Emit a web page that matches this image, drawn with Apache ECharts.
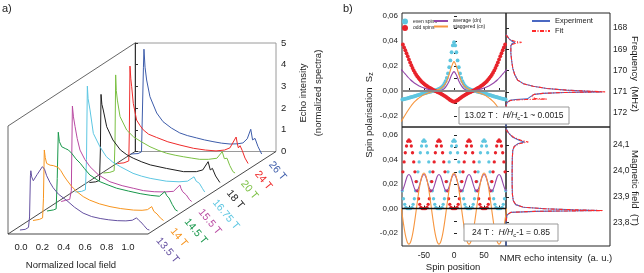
<!DOCTYPE html>
<html><head><meta charset="utf-8">
<script src="https://cdn.jsdelivr.net/npm/echarts@6/dist/echarts.min.js"></script>
<style>html,body{margin:0;padding:0;background:#fff}#c{width:644px;height:273px}</style>
</head><body><div id="c"></div>
<script>
// ---------------- Panel a: NMR spectra (normalized local field, echo intensity) ----------------
const fieldLabels = ['13.5 T','14 T','14.5 T','15.5 T','16.75 T','18 T','20 T','24 T','26 T'];
const traceColors = ['#6450a0','#f7941d','#17974a','#b94aa2','#5cc6e2','#1e1e1e','#7bc043','#ee2a2a','#3d5caa'];
const spec13_5 = [[-0.01,0],[0.04,0.03],[0.07,0.12],[0.08,0.6],[0.088,2.5],[0.092,2.73],[0.10,2.45],[0.115,2.27],[0.15,2.55],[0.2,2.92],[0.22,2.8],[0.24,2.5],[0.27,2.2],[0.30,1.95],[0.35,1.65],[0.43,1.35],[0.5,1.05],[0.58,0.78],[0.66,0.62],[0.74,0.53],[0.82,0.47],[0.9,0.43],[0.98,0.42],[1.04,0.45],[1.08,0.56],[1.1,0.45],[1.12,0.37],[1.15,0.2],[1.18,0.03],[1.2,0]];
const spec14 = [[-0.02,0],[0.04,0.05],[0.07,0.12],[0.078,1.0],[0.086,3.25],[0.095,2.9],[0.108,2.63],[0.14,2.55],[0.17,2.53],[0.215,2.45],[0.24,2.3],[0.27,2.05],[0.295,1.87],[0.34,1.58],[0.39,1.33],[0.45,1.1],[0.51,0.94],[0.6,0.77],[0.7,0.64],[0.8,0.55],[0.92,0.48],[1.0,0.47],[1.05,0.5],[1.09,0.64],[1.11,0.42],[1.14,0.3],[1.17,0.12],[1.2,0]];
const spec14_5 = [[-0.02,0],[0.04,0.05],[0.065,0.1],[0.075,1.5],[0.085,3.63],[0.095,3.2],[0.117,2.96],[0.15,2.88],[0.18,2.81],[0.21,2.66],[0.25,2.4],[0.29,2.2],[0.33,1.95],[0.38,1.66],[0.475,1.35],[0.55,1.2],[0.63,1.05],[0.74,0.92],[0.85,0.8],[0.95,0.72],[1.03,0.68],[1.08,0.89],[1.1,0.7],[1.12,0.6],[1.15,0.3],[1.18,0.05],[1.2,0]];
const spec15_5 = [[-0.02,0],[0.02,0.05],[0.06,0.1],[0.075,0.5],[0.085,4.4],[0.095,3.9],[0.11,3.45],[0.13,2.9],[0.156,2.37],[0.2,1.95],[0.25,1.6],[0.33,1.22],[0.436,0.91],[0.55,0.73],[0.654,0.61],[0.75,0.5],[0.85,0.45],[0.95,0.44],[1.03,0.47],[1.09,0.76],[1.1,0.6],[1.116,0.45],[1.15,0.3],[1.18,0.08],[1.2,0]];
const spec16_75 = [[-0.02,0],[0.04,0.03],[0.075,0.1],[0.085,1.5],[0.093,4.88],[0.1,4.3],[0.118,3.78],[0.149,2.7],[0.21,2.09],[0.27,1.63],[0.33,1.38],[0.4,1.17],[0.52,0.86],[0.6,0.73],[0.68,0.63],[0.83,0.5],[0.95,0.47],[1.03,0.5],[1.09,0.7],[1.11,0.5],[1.14,0.4],[1.17,0.15],[1.19,0]];
const spec18 = [[-0.02,0],[0.04,0.03],[0.075,0.1],[0.083,1.5],[0.089,4.06],[0.097,3.6],[0.11,3.34],[0.142,2.57],[0.2,1.96],[0.27,1.5],[0.33,1.28],[0.39,1.12],[0.47,0.95],[0.55,0.81],[0.7,0.65],[0.86,0.5],[0.98,0.5],[1.04,0.58],[1.09,0.96],[1.11,0.58],[1.13,0.65],[1.16,0.3],[1.2,0]];
const spec20 = [[-0.02,0],[0.04,0.03],[0.08,0.1],[0.088,1.5],[0.094,4.52],[0.1,3.8],[0.11,3.36],[0.135,2.6],[0.197,1.98],[0.26,1.67],[0.33,1.45],[0.415,1.21],[0.49,1.05],[0.57,0.91],[0.65,0.82],[0.726,0.75],[0.8,0.69],[0.88,0.63],[0.96,0.63],[1.04,0.68],[1.09,0.98],[1.11,0.66],[1.125,0.6],[1.135,0.68],[1.16,0.35],[1.19,0.06],[1.21,0]];
const spec24 = [[-0.02,0],[0.04,0.03],[0.085,0.12],[0.09,1.5],[0.096,4.49],[0.104,3.9],[0.112,3.54],[0.127,2.77],[0.158,2.0],[0.19,1.75],[0.22,1.55],[0.27,1.35],[0.345,1.2],[0.45,1.0],[0.563,0.85],[0.69,0.7],[0.8,0.62],[0.9,0.58],[0.98,0.62],[1.03,0.72],[1.088,1.22],[1.1,0.9],[1.109,0.72],[1.125,0.82],[1.145,0.6],[1.171,0.25],[1.2,0]];
const spec26 = [[-0.03,0],[0.04,0.02],[0.072,0.1],[0.09,4.0],[0.095,4.83],[0.105,4.0],[0.12,3.41],[0.151,2.64],[0.214,1.89],[0.273,1.49],[0.35,1.2],[0.43,0.97],[0.5,0.85],[0.588,0.74],[0.66,0.65],[0.74,0.57],[0.82,0.5],[0.9,0.46],[0.97,0.47],[1.02,0.51],[1.06,0.7],[1.093,1.14],[1.11,0.65],[1.133,0.72],[1.16,0.35],[1.195,0]];
const spectra = [spec13_5, spec14, spec14_5, spec15_5, spec16_75, spec18, spec20, spec24, spec26];
const localFieldTicks = [0, 0.2, 0.4, 0.6, 0.8, 1.0];
const echoTicks = [0, 1, 2, 3, 4, 5];

// ---------------- Panel b: spin polarisation ----------------
const spinEvenX = [-86,-84,-82,-80,-78,-76,-74,-72,-70,-68,-66,-64,-62,-60,-58,-56,-54,-52,-50,-48,-46,-44,-42,-40,-38,-36,-34,-32,-30,-28,-26,-24,-22,-20,-18,-16,-14,-12,-10,-8,-6,-4,-2,0,2,4,6,8,10,12,14,16,18,20,22,24,26,28,30,32,34,36,38,40,42,44,46,48,50,52,54,56,58,60,62,64,66,68,70,72,74,76,78,80,82,84,86];
const spinOddX = [-85,-83,-81,-79,-77,-75,-73,-71,-69,-67,-65,-63,-61,-59,-57,-55,-53,-51,-49,-47,-45,-43,-41,-39,-37,-35,-33,-31,-29,-27,-25,-23,-21,-19,-17,-15,-13,-11,-9,-7,-5,-3,-1,1,3,5,7,9,11,13,15,17,19,21,23,25,27,29,31,33,35,37,39,41,43,45,47,49,51,53,55,57,59,61,63,65,67,69,71,73,75,77,79,81,83,85];
const lineTopX = [-88,-84,-80,-76,-72,-68,-64,-60,-56,-52,-48,-44,-40,-36,-32,-28,-24,-20,-16,-12,-8,-4,0,4,8,12,16,20,24,28,32,36,40,44,48,52,56,60,64,68,72,76,80,84,88];
const lineBotX = [-87.5,-85,-82.5,-80,-77.5,-75,-72.5,-70,-67.5,-65,-62.5,-60,-57.5,-55,-52.5,-50,-47.5,-45,-42.5,-40,-37.5,-35,-32.5,-30,-27.5,-25,-22.5,-20,-17.5,-15,-12.5,-10,-7.5,-5,-2.5,0,2.5,5,7.5,10,12.5,15,17.5,20,22.5,25,27.5,30,32.5,35,37.5,40,42.5,45,47.5,50,52.5,55,57.5,60,62.5,65,67.5,70,72.5,75,77.5,80,82.5,85,87.5];

// 13.02 T
const evenTop = [-.0068,-.0066,-.0064,-.0061,-.0059,-.0056,-.0053,-.005,-.0048,-.0045,-.0042,-.0039,-.0036,-.0033,-.003,-.0027,-.0024,-.0021,-.0019,-.0016,-.0014,-.0011,-.0009,-.0006,-.0004,-.0001,.0001,.0004,.0007,.001,.0014,.0018,.0024,.0032,.0043,.0058,.0078,.0105,.014,.019,.0245,.031,.0365,.039,.0365,.031,.0245,.019,.014,.0105,.0078,.0058,.0043,.0032,.0024,.0018,.0014,.001,.0007,.0004,.0001,-.0001,-.0004,-.0006,-.0009,-.0011,-.0014,-.0016,-.0019,-.0021,-.0024,-.0027,-.003,-.0033,-.0036,-.0039,-.0042,-.0045,-.0048,-.005,-.0053,-.0056,-.0059,-.0061,-.0064,-.0066,-.0068];
const oddTop = [.0372,.0349,.0326,.0302,.0278,.0253,.0229,.0206,.0184,.0165,.0147,.0131,.0117,.0104,.0092,.0081,.0071,.0062,.0054,.0047,.004,.0033,.0027,.0022,.0016,.0011,.0005,0,-.0004,-.0009,-.0013,-.0018,-.0024,-.0029,-.0035,-.0041,-.0048,-.0055,-.0062,-.007,-.0075,-.0081,-.0085,-.0085,-.0081,-.0075,-.007,-.0062,-.0055,-.0048,-.0041,-.0035,-.0029,-.0024,-.0018,-.0013,-.0009,-.0004,0,.0005,.0011,.0016,.0022,.0027,.0033,.004,.0047,.0054,.0062,.0071,.0081,.0092,.0104,.0117,.0131,.0147,.0165,.0184,.0206,.0229,.0253,.0278,.0302,.0326,.0349,.0372];
const avgTop = [.0172,.0152,.013,.0108,.0088,.0072,.0058,.0046,.0036,.0028,.0021,.0015,.001,.0006,.0003,.0001,.0001,.0008,.002,.0045,.008,.0128,.0155,.0128,.008,.0045,.002,.0008,.0001,.0001,.0003,.0006,.001,.0015,.0021,.0028,.0036,.0046,.0058,.0072,.0088,.0108,.013,.0152,.0172];
const stagTop = [-.0245,-.0213,-.0182,-.0152,-.0124,-.0099,-.0079,-.0062,-.0048,-.0035,-.0026,-.0018,-.0011,-.0005,0,.0007,.0016,.0028,.0047,.008,.0135,.0195,.0235,.0195,.0135,.008,.0047,.0028,.0016,.0007,0,-.0005,-.0011,-.0018,-.0026,-.0035,-.0048,-.0062,-.0079,-.0099,-.0124,-.0152,-.0182,-.0213,-.0245];
// 24 T
const evenBot = [.0145,.008,.0035,.001,0,0,0,0,.001,.0035,.008,.0145,.022,.03,.038,.0455,.051,.0548,.056,.0548,.051,.0455,.038,.03,.022,.0145,.008,.0035,.001,0,0,0,0,.001,.0035,.008,.0145,.022,.03,.038,.0455,.051,.0548,.056,.0548,.051,.0455,.038,.03,.022,.0145,.008,.0035,.001,0,0,0,0,.001,.0035,.008,.0145,.022,.03,.038,.0455,.051,.0548,.056,.0548,.051,.0455,.038,.03,.022,.0145,.008,.0035,.001,0,0,0,0,.001,.0035,.008,.0145];
const oddBot = [.03,.038,.0455,.051,.0548,.056,.0548,.051,.0455,.038,.03,.022,.0145,.008,.0035,.001,0,0,0,0,.001,.0035,.008,.0145,.022,.03,.038,.0455,.051,.0548,.056,.0548,.051,.0455,.038,.03,.022,.0145,.008,.0035,.001,0,0,0,0,.001,.0035,.008,.0145,.022,.03,.038,.0455,.051,.0548,.056,.0548,.051,.0455,.038,.03,.022,.0145,.008,.0035,.001,0,0,0,0,.001,.0035,.008,.0145,.022,.03,.038,.0455,.051,.0548,.056,.0548,.051,.0455,.038,.03];
const avgBot = [.0142,.0155,.0189,.0231,.0265,.0278,.0265,.0231,.0189,.0155,.0142,.0155,.0189,.0231,.0265,.0278,.0265,.0231,.0189,.0155,.0142,.0155,.0189,.0231,.0265,.0278,.0265,.0231,.0189,.0155,.0142,.0155,.0189,.0231,.0265,.0278,.0265,.0231,.0189,.0155,.0142,.0155,.0189,.0231,.0265,.0278,.0265,.0231,.0189,.0155,.0142,.0155,.0189,.0231,.0265,.0278,.0265,.0231,.0189,.0155,.0142,.0155,.0189,.0231,.0265,.0278,.0265,.0231,.0189,.0155,.0142];
const stagBot = [0,-.009,-.0171,-.0235,-.0276,-.029,-.0276,-.0235,-.0171,-.009,0,.009,.0171,.0235,.0276,.029,.0276,.0235,.0171,.009,0,-.009,-.0171,-.0235,-.0276,-.029,-.0276,-.0235,-.0171,-.009,0,.009,.0171,.0235,.0276,.029,.0276,.0235,.0171,.009,0,-.009,-.0171,-.0235,-.0276,-.029,-.0276,-.0235,-.0171,-.009,0,.009,.0171,.0235,.0276,.029,.0276,.0235,.0171,.009,0,-.009,-.0171,-.0235,-.0276,-.029,-.0276,-.0235,-.0171,-.009,0];
const polTicks = [-0.02, 0, 0.02, 0.04, 0.06];
const spinTicks = [-50, 0, 50];

// NMR lines: [intensity, frequency MHz] and [intensity, field T]
const expFreq = [[0,168.3],[0.03,168.5],[0.06,168.62],[0.09,168.68],[0.06,168.74],[0.05,168.85],[0.05,169.2],[0.06,169.6],[0.07,169.9],[0.09,170.2],[0.12,170.45],[0.18,170.62],[0.28,170.74],[0.42,170.84],[0.62,170.92],[0.85,170.97],[0.99,171.0],[0.6,171.03],[0.38,171.07],[0.29,171.12],[0.26,171.2],[0.25,171.28],[0.22,171.33],[0.1,171.36],[0.04,171.4],[0.01,171.5],[0,171.7],[0,172.65]];
const fitFreq = [[0,168.33],[0.04,168.55],[0.1,168.64],[0.16,168.68],[0.1,168.72],[0.05,168.8],[0.05,169.2],[0.06,169.6],[0.07,169.9],[0.09,170.2],[0.12,170.45],[0.18,170.62],[0.28,170.74],[0.42,170.84],[0.62,170.92],[0.87,170.97],[1.02,171.0],[0.6,171.03],[0.38,171.07],[0.29,171.12],[0.26,171.2],[0.25,171.28],[0.3,171.32],[0.42,171.34],[0.2,171.36],[0.05,171.4],[0.01,171.5],[0,171.7]];
const expField = [[0,24.165],[0.03,24.145],[0.07,24.13],[0.14,24.118],[0.19,24.112],[0.12,24.105],[0.085,24.095],[0.07,24.08],[0.065,24.05],[0.063,24.0],[0.063,23.95],[0.066,23.91],[0.075,23.885],[0.1,23.87],[0.18,23.86],[0.4,23.854],[0.7,23.85],[0.96,23.847],[0.3,23.844],[0.05,23.84],[0.01,23.83],[0,23.8],[0,23.71]];
const fitField = [[0,24.16],[0.03,24.145],[0.08,24.13],[0.16,24.118],[0.23,24.112],[0.13,24.105],[0.085,24.095],[0.07,24.08],[0.065,24.05],[0.063,24.0],[0.063,23.95],[0.066,23.91],[0.075,23.885],[0.1,23.87],[0.18,23.86],[0.4,23.854],[0.7,23.85],[1.0,23.847],[0.5,23.845],[0.3,23.844],[0.05,23.84],[0.01,23.83],[0,23.8]];
const freqTicks = [168, 169, 170, 171, 172];
const fieldTicks = [23.8, 23.9, 24.0, 24.1];

// ---------------- build ----------------
const FF = '"Liberation Sans", Arial, Helvetica, sans-serif';
const zip = (xs, ys) => xs.map((x, i) => [x, ys[i]]);
const chart = echarts.init(document.getElementById('c'), null, {renderer: 'canvas'});
const grids = [], xAxes = [], yAxes = [], series = [], els = [];

function addGrid(g, xa, ya) {
  grids.push(Object.assign({outerBoundsMode: 'none', containLabel: false}, g));
  const gi = grids.length - 1;
  xAxes.push(Object.assign({gridIndex: gi, type: 'value', splitLine: {show: false}}, xa));
  yAxes.push(Object.assign({gridIndex: gi, type: 'value', splitLine: {show: false}}, ya));
  return gi;
}
function text(x, y, str, o) {
  o = o || {};
  const st = Object.assign({text: str, fill: o.color || '#222', fontSize: o.size || 9, fontFamily: FF,
    align: o.align || 'center', verticalAlign: o.valign || 'middle',
    textAlign: o.align || 'center', textVerticalAlign: o.valign || 'middle'}, o.style || {});
  return {type: 'text', x: x, y: y, rotation: o.rot || 0, silent: true, z: o.z || 5, style: st};
}
function seg(x1, y1, x2, y2, c, w) {
  return {type: 'line', silent: true, z: 1, shape: {x1, y1, x2, y2}, style: {stroke: c || '#444', lineWidth: w || 0.9}};
}

// panel a geometry
const PX = 107, PY = 21.7, OX0 = 21, OY0 = 230, DX = 14.1, DY = -9.5;
addGrid({left: 135, top: 43, width: 141, height: 108.5, show: true, borderColor: '#9a9a9a', borderWidth: 1},
  {min: 0, max: 1, show: false},
  {min: 0, max: 5, interval: 1, position: 'right',
   axisLine: {show: true, lineStyle: {color: '#333', width: 1}},
   axisTick: {show: true, length: 3, lineStyle: {color: '#333'}},
   axisLabel: {fontSize: 9.5, color: '#222', margin: 5, fontFamily: FF, customValues: echoTicks}});
addGrid({left: OX0, top: 200, width: PX, height: 34},
  {min: 0, max: 1, interval: 0.2, axisLine: {show: false}, axisTick: {show: false},
   axisLabel: {fontSize: 9.5, color: '#222', margin: 8, fontFamily: FF, customValues: localFieldTicks,
     formatter: v => v.toFixed(1)}},
  {min: 0, max: 1, show: false});
for (let k = spectra.length - 1; k >= 0; k--) {
  const ox = OX0 + DX * k, oy = OY0 + DY * k;
  const gi = addGrid({left: ox - 0.05 * PX, top: oy - 5 * PY, width: 1.3 * PX, height: 5.3 * PY},
    {min: -0.05, max: 1.25, show: false}, {min: -0.3, max: 5, show: false});
  series.push({type: 'line', name: fieldLabels[k], xAxisIndex: gi, yAxisIndex: gi, data: spectra[k],
    symbol: 'none', silent: true, lineStyle: {color: traceColors[k], width: 1}});
}
for (let k = 0; k < fieldLabels.length; k++) {
  const ox = OX0 + DX * k, oy = OY0 + DY * k;
  els.push(text(ox + 137, oy + 9, fieldLabels[k], {color: traceColors[k], size: 10.5, align: 'left', rot: -50 * Math.PI / 180}));
}
els.push(seg(8, 126, 8, 234, '#555'), seg(8, 126, 135, 43, '#555'), seg(8, 234, 135, 151.5, '#333'),
  seg(8, 234, 148, 234, '#333'), seg(148, 234, 276, 151.5, '#333'));
els.push(text(2, 9, 'a)', {size: 11, align: 'left'}));
els.push(text(71, 265, 'Normalized local field', {size: 9.5}));
els.push(text(303, 93, 'Echo intensity', {size: 9.5, rot: Math.PI / 2}));
els.push(text(318, 93, '(normalized spectra)', {size: 9.5, rot: Math.PI / 2}));

// panel b
const commaFmt = d => v => v.toFixed(d).replace('.', ',');
const spinXAxis = (labels) => ({min: -86.5, max: 86.5, axisLine: {show: false},
  axisTick: {show: true, inside: true, length: 3, customValues: [-75, -50, -25, 0, 25, 50, 75], lineStyle: {color: '#222'}},
  axisLabel: labels ? {fontSize: 8.5, color: '#222', margin: 5, fontFamily: FF, customValues: spinTicks} : {show: false}});
const polYAxis = (mn, mx) => ({min: mn, max: mx, axisLine: {show: false},
  axisTick: {show: true, inside: true, length: 3, customValues: [-0.02, -0.01, 0, 0.01, 0.02, 0.03, 0.04, 0.05, 0.06], lineStyle: {color: '#222'}},
  axisLabel: {fontSize: 8, color: '#222', margin: 4, fontFamily: FF, customValues: polTicks, formatter: commaFmt(2)}});
const gTL = addGrid({left: 402, top: 13, width: 104, height: 114, show: true, borderColor: '#222', borderWidth: 1},
  spinXAxis(false), polYAxis(-0.0288, 0.0624));
const gBL = addGrid({left: 402, top: 127, width: 104, height: 119, show: true, borderColor: '#222', borderWidth: 1},
  spinXAxis(true), polYAxis(-0.0305, 0.0665));
const gTR = addGrid({left: 506, top: 13, width: 104, height: 114, show: true, borderColor: '#222', borderWidth: 1},
  {min: 0, max: 1.07, show: false},
  {min: 167.3, max: 172.65, inverse: true, position: 'right', axisLine: {show: false},
   axisTick: {show: true, length: 3, customValues: freqTicks, lineStyle: {color: '#222'}},
   axisLabel: {fontSize: 8.5, color: '#222', margin: 3, fontFamily: FF, customValues: freqTicks}});
const gBR = addGrid({left: 506, top: 127, width: 104, height: 119, show: true, borderColor: '#222', borderWidth: 1},
  {min: 0, max: 1.07, show: false},
  {min: 23.71, max: 24.17, position: 'right', axisLine: {show: false},
   axisTick: {show: true, length: 3, customValues: fieldTicks, lineStyle: {color: '#222'}},
   axisLabel: {fontSize: 8.5, color: '#222', margin: 3, fontFamily: FF, customValues: fieldTicks, formatter: commaFmt(1)}});

const CYAN = '#5fc6e0', RED = '#e8232b', PURPLE = '#9446a8', ORANGE = '#f7963f';
function polSeries(gi, ev, od, av, sg, lx, sz, zeroColor, zeroW, suffix) {
  series.push({type: 'scatter', name: 'even spins' + suffix, xAxisIndex: gi, yAxisIndex: gi, data: zip(spinEvenX, ev),
    symbolSize: sz, itemStyle: {color: CYAN, opacity: 1}, silent: true, z: 3});
  series.push({type: 'scatter', name: 'odd spins' + suffix, xAxisIndex: gi, yAxisIndex: gi, data: zip(spinOddX, od),
    symbolSize: sz, itemStyle: {color: RED, opacity: 1}, silent: true, z: 3});
  series.push({type: 'line', name: 'average (dn)' + suffix, xAxisIndex: gi, yAxisIndex: gi, data: zip(lx, av),
    symbol: 'none', smooth: 0.3, silent: true, lineStyle: {color: PURPLE, width: 1.1}, z: 4,
    markLine: {silent: true, symbol: 'none', label: {show: false}, lineStyle: {color: zeroColor, width: zeroW, type: 'solid'},
      data: [{yAxis: 0}]}});
  series.push({type: 'line', name: 'staggered (cn)' + suffix, xAxisIndex: gi, yAxisIndex: gi, data: zip(lx, sg),
    symbol: 'none', smooth: 0.3, silent: true, lineStyle: {color: ORANGE, width: 1.1}, z: 4});
}
polSeries(gTL, evenTop, oddTop, avgTop, stagTop, lineTopX, 3.8, '#8a8a8a', 2, '');
polSeries(gBL, evenBot, oddBot, avgBot, stagBot, lineBotX, 3.3, '#111', 1.4, ' 24T');

const BLUE = '#4a68c2', FITRED = '#ff2a2a';
function nmrSeries(gi, ex, ft, suffix) {
  series.push({type: 'line', name: 'Experiment' + suffix, xAxisIndex: gi, yAxisIndex: gi, data: ex,
    symbol: 'none', silent: true, lineStyle: {color: BLUE, width: 1.1}, itemStyle: {color: BLUE}, z: 3});
  series.push({type: 'line', name: 'Fit' + suffix, xAxisIndex: gi, yAxisIndex: gi, data: ft,
    symbol: 'none', silent: true, lineStyle: {color: FITRED, width: 1.1, type: [4, 1.5, 1, 1.5]}, itemStyle: {color: FITRED}, z: 4});
}
nmrSeries(gTR, expFreq, fitFreq, '');
nmrSeries(gBR, expField, fitField, ' B');

els.push(text(343, 9, 'b)', {size: 11, align: 'left'}));
const richBase = {
  n: {fontSize: 8.5, fontFamily: FF, fill: '#222', lineHeight: 11, verticalAlign: 'middle'},
  i: {fontSize: 8.5, fontFamily: FF, fill: '#222', fontStyle: 'italic', lineHeight: 11, verticalAlign: 'middle'},
  s: {fontSize: 6, fontFamily: FF, fill: '#222', lineHeight: 6, verticalAlign: 'bottom'}
};
els.push(text(369, 115, '{n|Spin polarisation  }{n|S}{s|z}', {rot: Math.PI / 2, style: {rich: {
  n: Object.assign({}, richBase.n, {fontSize: 9.5, lineHeight: 12}), s: Object.assign({}, richBase.s, {fontSize: 7, lineHeight: 7})}}}));
els.push(text(453, 267, 'Spin position', {size: 9.5}));
els.push(text(556, 258, 'NMR echo intensity  (a. u.)', {size: 9.5}));
els.push(text(635, 74, 'Frequency  (MHz)', {size: 9.5, rot: -Math.PI / 2}));
els.push(text(635, 188, 'Magnetic field  (T)', {size: 9.5, rot: -Math.PI / 2}));
els.push({type: 'rect', silent: true, z: 100, shape: {x: 459, y: 107, width: 110, height: 17},
  style: {fill: '#fff', stroke: '#999', lineWidth: 1}});
els.push(text(514, 115.5, '{n|13.02 T :  }{i|H/H}{s|c}{n|-1 ~ 0.0015}', {z: 101, style: {rich: richBase}}));
els.push({type: 'rect', silent: true, z: 100, shape: {x: 464, y: 224, width: 94, height: 17},
  style: {fill: '#fff', stroke: '#999', lineWidth: 1}});
els.push(text(511, 232.5, '{n|24 T :  }{i|H/H}{s|c}{n|-1 = 0.85}', {z: 101, style: {rich: richBase}}));

const legendBase = {orient: 'vertical', padding: 0, selectedMode: false,
  textStyle: {fontSize: 5, color: '#222', fontFamily: FF}};
const option = {
  animation: false,
  textStyle: {fontFamily: FF},
  grid: grids, xAxis: xAxes, yAxis: yAxes, series: series,
  legend: [
    Object.assign({}, legendBase, {data: ['even spins', 'odd spins'], left: 402, top: 18.5, itemWidth: 6, itemHeight: 6, itemGap: 0.5,
      icon: 'circle'}),
    Object.assign({}, legendBase, {data: ['average (dn)', 'staggered (cn)'], left: 433, top: 18.5, itemWidth: 14, itemHeight: 6, itemGap: 0.5,
      itemStyle: {opacity: 0}}),
    Object.assign({}, legendBase, {data: ['Experiment', 'Fit'], left: 531, top: 17, itemWidth: 18, itemHeight: 7, itemGap: 2,
      itemStyle: {opacity: 0}, textStyle: {fontSize: 7.5, color: '#222', fontFamily: FF}})
  ],
  graphic: {elements: els}
};
chart.setOption(option);
</script></body></html>
